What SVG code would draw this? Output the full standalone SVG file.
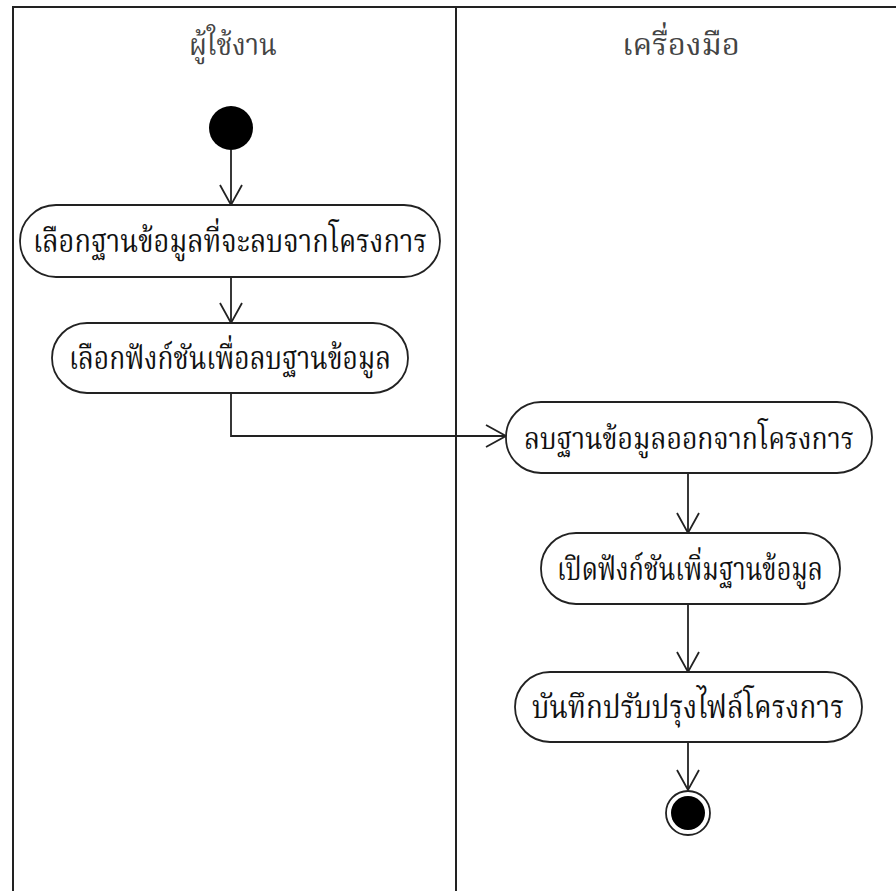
<svg xmlns="http://www.w3.org/2000/svg" width="896" height="891" viewBox="0 0 896 891">
  <style>
    .lane { fill: none; stroke: #222; stroke-width: 2; }
    .act rect { fill: #fff; stroke: #222; stroke-width: 1.8; }
    .label { font-family: "Noto Serif Thai", "Liberation Serif", "Noto Sans Thai", "DejaVu Serif", serif; font-size: 32px; fill: #111; text-anchor: middle; }
    .title { font-family: "Noto Serif Thai", "Liberation Serif", "Noto Sans Thai", "DejaVu Serif", serif; font-size: 31px; fill: #444; text-anchor: middle; }
    .flow { fill: none; stroke: #222; stroke-width: 1.8; }
  </style>
  <defs>
    <marker id="open" markerWidth="24" markerHeight="26" refX="21" refY="12" orient="auto" markerUnits="userSpaceOnUse">
      <path d="M1,1 L21,12 L1,23" fill="none" stroke="#222" stroke-width="1.8"/>
    </marker>
  </defs>
  <rect width="896" height="891" fill="#fff"/>

  <!-- swimlane frame -->
  <g id="lanes">
    <path class="lane" d="M13,900 V7 H900"/>
    <path class="lane" d="M456,7 V900"/>
    <text class="title" x="233" y="55" textLength="88" lengthAdjust="spacingAndGlyphs">ผู้ใช้งาน</text>
    <text class="title" x="681" y="55" textLength="118" lengthAdjust="spacingAndGlyphs">เครื่องมือ</text>
  </g>

  <!-- connectors -->
  <g id="connectors">
    <path class="flow" d="M231,150 V205" marker-end="url(#open)"/>
    <path class="flow" d="M231,277 V323" marker-end="url(#open)"/>
    <path class="flow" d="M231,393 V436 H506" marker-end="url(#open)"/>
    <path class="flow" d="M688,473 V533" marker-end="url(#open)"/>
    <path class="flow" d="M688,604 V672" marker-end="url(#open)"/>
    <path class="flow" d="M688,742 V790" marker-end="url(#open)"/>
  </g>

  <g id="start">
    <circle cx="231" cy="128" r="22" fill="#000"/>
  </g>

  <g id="a1" class="act">
    <rect x="20" y="205" width="420" height="72" rx="36"/>
    <text class="label" x="230" y="252" textLength="394" lengthAdjust="spacingAndGlyphs">เลือกฐานข้อมูลที่จะลบจากโครงการ</text>
  </g>

  <g id="a2" class="act">
    <rect x="52" y="323" width="356" height="70" rx="35"/>
    <text class="label" x="230" y="369" textLength="322" lengthAdjust="spacingAndGlyphs">เลือกฟังก์ชันเพื่อลบฐานข้อมูล</text>
  </g>

  <g id="a3" class="act">
    <rect x="506" y="402" width="366" height="71" rx="35"/>
    <text class="label" x="689" y="449" style="font-size:30px" textLength="330" lengthAdjust="spacingAndGlyphs">ลบฐานข้อมูลออกจากโครงการ</text>
  </g>

  <g id="a4" class="act">
    <rect x="541" y="533" width="299" height="71" rx="35"/>
    <text class="label" x="690" y="580" textLength="266" lengthAdjust="spacingAndGlyphs">เปิดฟังก์ชันเพิ่มฐานข้อมูล</text>
  </g>

  <g id="a5" class="act">
    <rect x="515" y="672" width="347" height="70" rx="35"/>
    <text class="label" x="688" y="718" textLength="312" lengthAdjust="spacingAndGlyphs">บันทึกปรับปรุงไฟล์โครงการ</text>
  </g>

  <g id="end">
    <circle cx="688" cy="813" r="22" fill="#fff" stroke="#222" stroke-width="1.8"/>
    <circle cx="688" cy="813" r="17" fill="#000"/>
  </g>
</svg>
